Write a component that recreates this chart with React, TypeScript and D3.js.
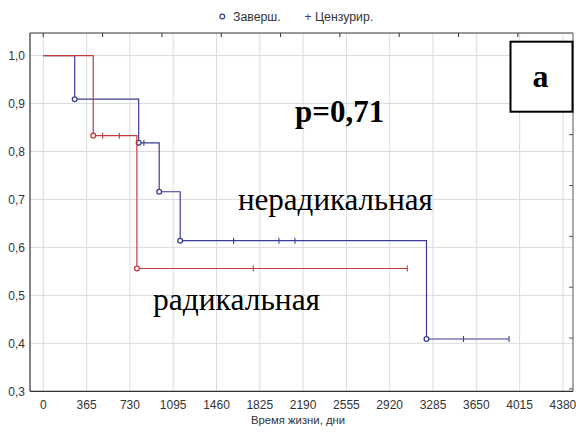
import React from "react";
import * as d3 from "d3";

// Kaplan–Meier curves: survival time in days
const nonRadicalTimes = [0, 265, 804, 977, 1154, 3230];
const nonRadicalSurv = [1.0, 0.909, 0.818, 0.716, 0.614, 0.409];
const nonRadicalEnd = 3926;
const nonRadicalCensored = [848, 1604, 1986, 2121, 3542, 3926];

const radicalTimes = [0, 421, 789];
const radicalSurv = [1.0, 0.833, 0.556];
const radicalEnd = 3068;
const radicalCensored = [500, 641, 1770, 3068];

const xTicks = [0, 365, 730, 1095, 1460, 1825, 2190, 2555, 2920, 3285, 3650, 4015, 4380];
const yTicks = [0.3, 0.4, 0.5, 0.6, 0.7, 0.8, 0.9, 1.0];
const topTicks = [0, 500, 1000, 1500, 2000, 2500, 3000, 3500, 4000];
const rightTicks = [0.941, 0.835, 0.729, 0.623, 0.517, 0.411, 0.305];

const W = 576;
const H = 434;
const left = 30;
const right = 573;
const top = 33;
const bottom = 391.3;

const BLUE = "#3b3b98";
const RED = "#c43c3c";

type Pt = [number, number];

function stepPoints(times: number[], surv: number[], end: number): Pt[] {
  const pts: Pt[] = times.map((t, i) => [t, surv[i]] as Pt);
  pts.push([end, surv[surv.length - 1]]);
  return pts;
}

function survAt(times: number[], surv: number[], t: number): number {
  let s = surv[0];
  for (let i = 0; i < times.length; i++) if (times[i] <= t) s = surv[i];
  return s;
}

export default function App() {
  const x = d3.scaleLinear().domain([-112, 4465]).range([left, right]);
  const y = d3.scaleLinear().domain([0.3, 1.047]).range([bottom, top]);
  const line = d3
    .line<Pt>()
    .x((d) => x(d[0]))
    .y((d) => y(d[1]))
    .curve(d3.curveStepAfter);

  const fmt = (v: number) => v.toFixed(1).replace(".", ",");

  const series = [
    { times: nonRadicalTimes, surv: nonRadicalSurv, end: nonRadicalEnd, cens: nonRadicalCensored, color: BLUE },
    { times: radicalTimes, surv: radicalSurv, end: radicalEnd, cens: radicalCensored, color: RED },
  ];

  const sans = "'Liberation Sans', Arial, sans-serif";
  const serif = "'Liberation Serif', 'Times New Roman', serif";

  return (
    <svg
      width={W}
      height={H}
      style={{ position: "absolute", left: 0, top: 0, background: "#fff" }}
    >
      <rect x={0} y={0} width={W} height={H} fill="#fff" />

      {/* grid */}
      {xTicks.map((t) => (
        <line key={"gx" + t} x1={x(t)} x2={x(t)} y1={top} y2={bottom} stroke="#dcdcdc" strokeWidth={1} />
      ))}
      {yTicks.map((t) => (
        <line key={"gy" + t} x1={left} x2={right} y1={y(t)} y2={y(t)} stroke="#dcdcdc" strokeWidth={1} />
      ))}

      {/* frame */}
      <line x1={left} x2={right} y1={top} y2={top} stroke="#333" strokeWidth={1} />
      <line x1={right} x2={right} y1={top} y2={bottom} stroke="#555" strokeWidth={1} />
      <line x1={left} x2={left} y1={top} y2={bottom} stroke="#333" strokeWidth={1.2} />
      <line x1={left} x2={right} y1={bottom} y2={bottom} stroke="#333" strokeWidth={1.2} />
      {topTicks.map((t) => (
        <line key={"tt" + t} x1={x(t)} x2={x(t)} y1={top} y2={top + 4} stroke="#333" strokeWidth={1} />
      ))}
      {rightTicks.map((t) => (
        <line key={"rt" + t} x1={right} x2={right - 4} y1={y(t)} y2={y(t)} stroke="#555" strokeWidth={1} />
      ))}

      {/* tick labels */}
      {yTicks.map((t) => (
        <text key={"ly" + t} x={25} y={y(t) + 4.5} textAnchor="end" fontFamily={sans} fontSize={12} fill="#333">
          {fmt(t)}
        </text>
      ))}
      {xTicks.map((t) => (
        <text key={"lx" + t} x={x(t)} y={408.5} textAnchor="middle" fontFamily={sans} fontSize={12} fill="#333">
          {t}
        </text>
      ))}
      <text x={298} y={424} textAnchor="middle" fontFamily={sans} fontSize={11.3} fill="#333">
        Время жизни, дни
      </text>

      {/* legend */}
      <circle cx={222.3} cy={16.5} r={2.4} fill="none" stroke={BLUE} strokeWidth={1.2} />
      <text x={233} y={20.5} fontFamily={sans} fontSize={12.3} fill="#333">Заверш.</text>
      <text x={308} y={20.5} textAnchor="middle" fontFamily={sans} fontSize={12} fill={BLUE}>+</text>
      <text x={315} y={20.5} fontFamily={sans} fontSize={12.3} fill="#333">Цензурир.</text>

      {/* curves */}
      {series.map((s, i) => (
        <g key={"s" + i}>
          <path d={line(stepPoints(s.times, s.surv, s.end)) || ""} fill="none" stroke={s.color} strokeWidth={1.2} />
          {s.times.slice(1).map((t, j) => (
            <circle key={"c" + j} cx={x(t)} cy={y(s.surv[j + 1])} r={2.4} fill="#fff" stroke={s.color} strokeWidth={1.3} />
          ))}
          {s.cens.map((t, j) => {
            const v = survAt(s.times, s.surv, t);
            return (
              <line key={"k" + j} x1={x(t)} x2={x(t)} y1={y(v) - 3} y2={y(v) + 3} stroke={s.color} strokeWidth={1.1} />
            );
          })}
        </g>
      ))}

      {/* annotations */}
      <text x={295} y={122} fontFamily={serif} fontWeight="bold" fontSize={31} fill="#000">p=0,71</text>
      <text x={238} y={210} fontFamily={serif} fontSize={31} fill="#000">нерадикальная</text>
      <text x={153} y={310} fontFamily={serif} fontSize={31.5} fill="#000">радикальная</text>
      <rect x={510.5} y={41.7} width={62} height={70} fill="#fff" stroke="#000" strokeWidth={2} />
      <text x={540.5} y={86.5} textAnchor="middle" fontFamily={serif} fontWeight="bold" fontSize={32} fill="#000">а</text>
    </svg>
  );
}
